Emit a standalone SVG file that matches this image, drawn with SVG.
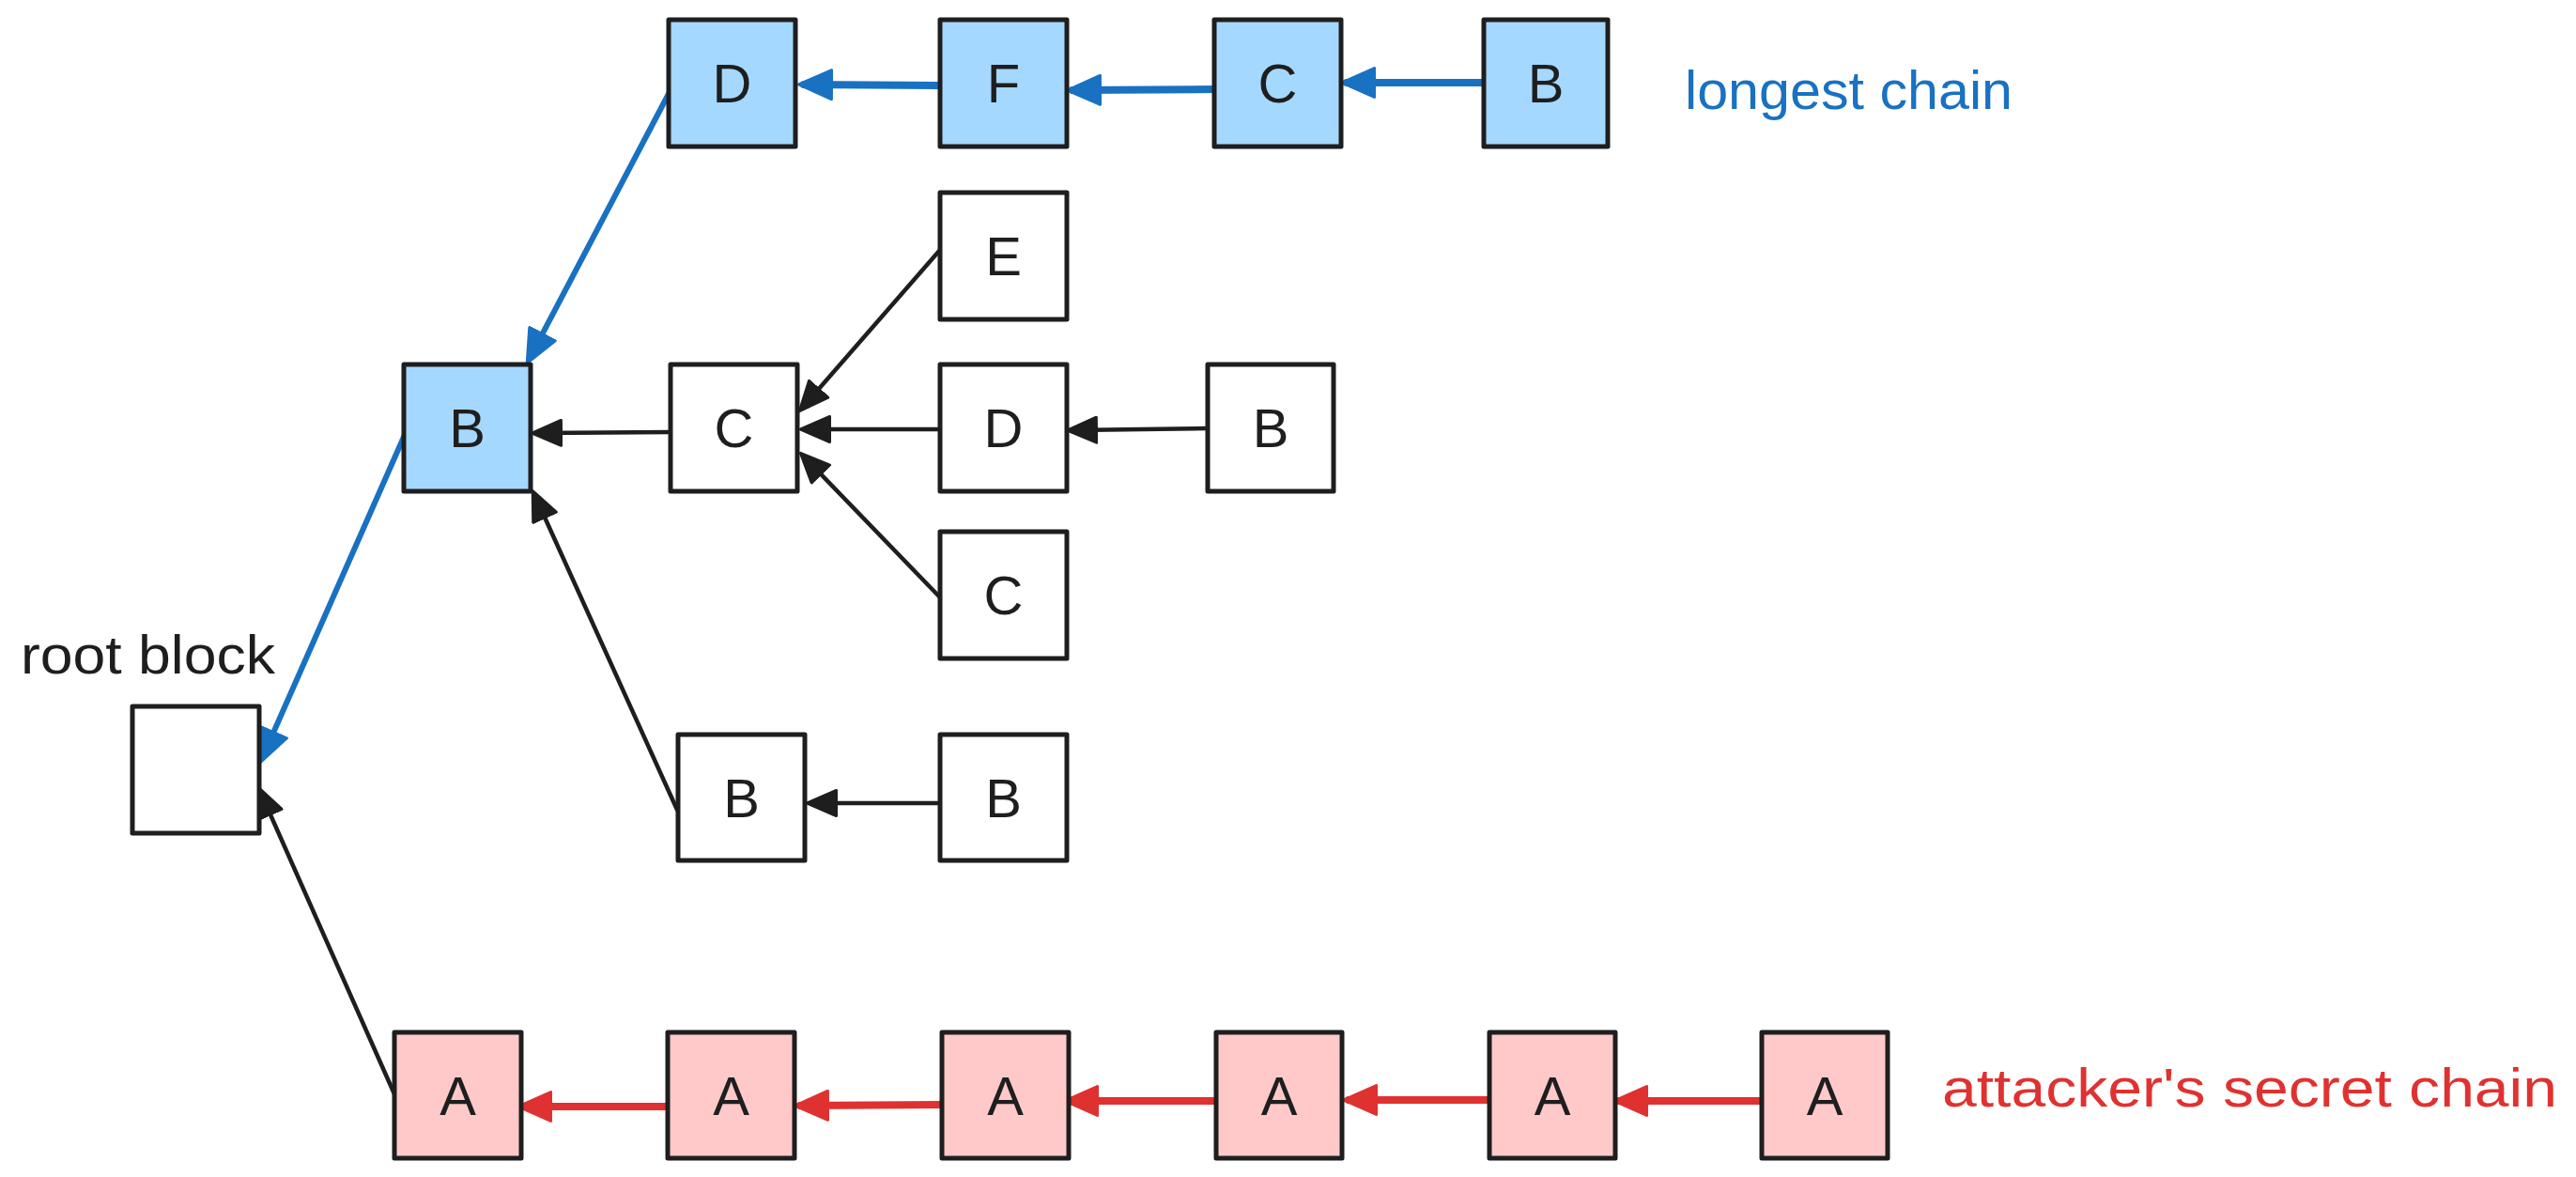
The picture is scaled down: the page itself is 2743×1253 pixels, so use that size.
<svg xmlns="http://www.w3.org/2000/svg" width="2743" height="1253" viewBox="0 0 2743 1253">
<style>
.box{stroke:#1e1e1e;stroke-width:5;stroke-linejoin:round}
.white{fill:#ffffff}
.blue{fill:#a5d8ff}
.pink{fill:#ffc9c9}
.lbl{font-family:"Liberation Sans",Arial,sans-serif;font-size:58px;fill:#1e1e1e;text-anchor:middle;dominant-baseline:central}
.note{font-family:"Liberation Sans",Arial,sans-serif;font-size:58px}
.cb{fill:none;stroke:#1e1e1e;stroke-width:4.5;stroke-linecap:round;marker-end:url(#ahK)}
.cbl{fill:none;stroke:#1971c2;stroke-width:8;stroke-linecap:round;marker-end:url(#ahB)}
.cbt{fill:none;stroke:#1971c2;stroke-width:6;stroke-linecap:round;marker-end:url(#ahB)}
.cr{fill:none;stroke:#e03131;stroke-width:8;stroke-linecap:round;marker-end:url(#ahR)}
</style>
<defs>
<marker id="ahK" viewBox="0 0 34 30" refX="27" refY="15" markerWidth="34" markerHeight="30" markerUnits="userSpaceOnUse" orient="auto">
<path d="M1.5 1.5 L32.5 15 L1.5 28.5 Z" fill="#1e1e1e" stroke="#1e1e1e" stroke-width="3" stroke-linejoin="round"/>
</marker>
<marker id="ahB" viewBox="0 0 38 34" refX="31" refY="17" markerWidth="38" markerHeight="34" markerUnits="userSpaceOnUse" orient="auto">
<path d="M1.5 1.5 L36.5 17 L1.5 32.5 Z" fill="#1971c2" stroke="#1971c2" stroke-width="3" stroke-linejoin="round"/>
</marker>
<marker id="ahR" viewBox="0 0 38 34" refX="31" refY="17" markerWidth="38" markerHeight="34" markerUnits="userSpaceOnUse" orient="auto">
<path d="M1.5 1.5 L36.5 17 L1.5 32.5 Z" fill="#e03131" stroke="#e03131" stroke-width="3" stroke-linejoin="round"/>
</marker>
</defs>
<rect width="2743" height="1253" fill="#ffffff"/>

<g id="connectors">
<path class="cbl" d="M1001 91 L856 90"/>
<path class="cbl" d="M1293 95 L1142 96"/>
<path class="cbl" d="M1580 88 L1434 88"/>
<path class="cbt" d="M714 96 L563.8 381.7"/>
<path class="cbt" d="M434 456 L279.4 806.5"/>
<path class="cb" d="M714 460 L572 461"/>
<path class="cb" d="M1001 266 L854.9 433.5"/>
<path class="cb" d="M1001 457 L858 457"/>
<path class="cb" d="M1001 636 L856.2 486.3"/>
<path class="cb" d="M1286 456 L1142 458"/>
<path class="cb" d="M721 862 L569.5 527.5"/>
<path class="cb" d="M1001 855 L865 855"/>
<path class="cb" d="M421 1167 L277.4 843.5"/>
<path class="cr" d="M712 1178 L557 1178"/>
<path class="cr" d="M1003 1176 L852 1177"/>
<path class="cr" d="M1295 1172 L1139 1172"/>
<path class="cr" d="M1586 1171 L1436 1171"/>
<path class="cr" d="M1874 1172 L1724 1172"/>
</g>

<g id="top-D"><rect class="box blue" x="712" y="21" width="135" height="135"/><text class="lbl" x="779.5" y="88.5">D</text></g>
<g id="top-F"><rect class="box blue" x="1001" y="21" width="135" height="135"/><text class="lbl" x="1068.5" y="88.5">F</text></g>
<g id="top-C"><rect class="box blue" x="1293" y="21" width="135" height="135"/><text class="lbl" x="1360.5" y="88.5">C</text></g>
<g id="top-B"><rect class="box blue" x="1580" y="21" width="132" height="135"/><text class="lbl" x="1646" y="88.5">B</text></g>

<g id="mid-B"><rect class="box blue" x="430" y="388" width="135" height="135"/><text class="lbl" x="497.5" y="455.5">B</text></g>
<g id="mid-C"><rect class="box white" x="714" y="388" width="135" height="135"/><text class="lbl" x="781.5" y="455.5">C</text></g>
<g id="mid-E"><rect class="box white" x="1001" y="205" width="135" height="135"/><text class="lbl" x="1068.5" y="272.5">E</text></g>
<g id="mid-D"><rect class="box white" x="1001" y="388" width="135" height="135"/><text class="lbl" x="1068.5" y="455.5">D</text></g>
<g id="mid-C2"><rect class="box white" x="1001" y="566" width="135" height="135"/><text class="lbl" x="1068.5" y="633.5">C</text></g>
<g id="mid-B2"><rect class="box white" x="1286" y="388" width="134" height="135"/><text class="lbl" x="1353" y="455.5">B</text></g>
<g id="low-B1"><rect class="box white" x="722" y="782" width="135" height="134"/><text class="lbl" x="789.5" y="849">B</text></g>
<g id="low-B2"><rect class="box white" x="1001" y="782" width="135" height="134"/><text class="lbl" x="1068.5" y="849">B</text></g>

<g id="root"><rect class="box white" x="141" y="752" width="135" height="135"/></g>
<g id="root-label"><text class="note" x="22" y="717" fill="#1e1e1e" textLength="271" lengthAdjust="spacingAndGlyphs">root block</text></g>

<g id="A1"><rect class="box pink" x="420" y="1099" width="135" height="134"/><text class="lbl" x="487.5" y="1166">A</text></g>
<g id="A2"><rect class="box pink" x="711" y="1099" width="135" height="134"/><text class="lbl" x="778.5" y="1166">A</text></g>
<g id="A3"><rect class="box pink" x="1003" y="1099" width="135" height="134"/><text class="lbl" x="1070.5" y="1166">A</text></g>
<g id="A4"><rect class="box pink" x="1295" y="1099" width="134" height="134"/><text class="lbl" x="1362" y="1166">A</text></g>
<g id="A5"><rect class="box pink" x="1586" y="1099" width="134" height="134"/><text class="lbl" x="1653" y="1166">A</text></g>
<g id="A6"><rect class="box pink" x="1876" y="1099" width="134" height="134"/><text class="lbl" x="1943" y="1166">A</text></g>

<g id="longest-label"><text class="note" x="1794" y="116" fill="#1971c2" textLength="349" lengthAdjust="spacingAndGlyphs">longest chain</text></g>
<g id="attacker-label"><text class="note" x="2068" y="1178" fill="#e03131" textLength="655" lengthAdjust="spacingAndGlyphs">attacker's secret chain</text></g>
</svg>
